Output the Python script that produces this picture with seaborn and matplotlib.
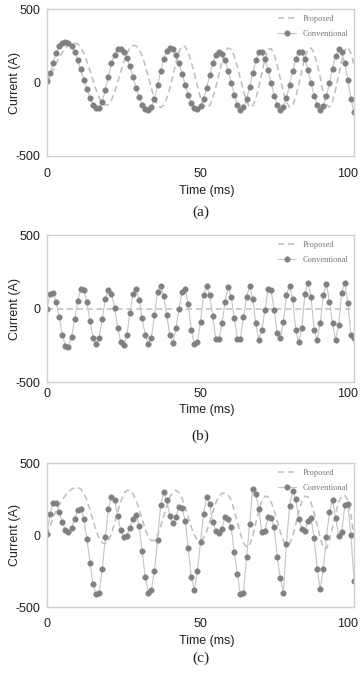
import matplotlib
matplotlib.use("Agg")
import matplotlib.pyplot as plt
import matplotlib.transforms as mtransforms
import seaborn as sns
import pandas as pd

# ---------------- data ----------------
time_ms = list(range(0, 101))

conv_a = [10, 66, 135, 200, 245, 270, 278, 268, 248, 210,
          150, 90, 20, -45, -105, -150, -175, -175, -130, -50,
          40, 130, 190, 225, 228, 210, 170, 110, 40, -35,
          -100, -150, -178, -186, -170, -110, -20, 75, 160, 215,
          235, 225, 190, 130, 60, -15, -85, -140, -172, -182,
          -160, -110, -35, 50, 130, 185, 210, 195, 150, 80,
          0, -85, -150, -185, -170, -115, -30, 65, 150, 205,
          205, 160, 85, 0, -90, -155, -185, -165, -105, -20,
          75, 160, 208, 205, 160, 85, 0, -90, -155, -185,
          -160, -95, -5, 95, 180, 225, 205, 130, 20, -110,
          -200]

prop_a = [0, 40, 85, 130, 170, 205, 235, 255, 265, 268,
          262, 240, 200, 145, 80, 15, -50, -105, -140, -155,
          -150, -120, -65, 0, 70, 140, 195, 235, 252, 250,
          225, 180, 115, 40, -40, -110, -155, -170, -155, -110,
          -40, 45, 135, 210, 250, 245, 205, 140, 60, -25,
          -105, -155, -170, -155, -105, -30, 55, 140, 205, 235,
          225, 180, 110, 25, -60, -130, -168, -160, -110, -30,
          65, 160, 225, 232, 190, 115, 25, -65, -135, -168,
          -155, -100, -15, 80, 170, 225, 235, 200, 125, 35,
          -80, -150, -168, -130, -50, 50, 150, 220, 240, 200,
          120]

conv_b = [0, 98, 107, 45, -61, -177, -257, -261, -193, -73,
          52, 130, 125, 41, -86, -198, -243, -198, -73, 64,
          125, 98, 5, -130, -227, -250, -182, -30, 98, 136,
          61, -68, -182, -239, -198, -45, 114, 152, 84, -45,
          -182, -234, -136, 0, 114, 136, 30, -148, -243, -225,
          -91, 91, 152, 91, -52, -209, -209, -102, 45, 148,
          80, -64, -205, -205, -61, 80, 152, 68, -102, -211,
          -143, -11, 136, 125, -11, -170, -200, -91, 91, 152,
          68, -143, -227, -136, 102, 175, 80, -148, -211, -102,
          91, 170, 45, -102, -211, -114, 107, 175, 39, -182,
          -198]

prop_b_time = [0, 10, 20, 30, 40, 50, 60, 70, 80, 90, 100]
prop_b = [0, 0, 0, 0, 0, 0, 0, 0, 0, 0, 0]

conv_c = [7, 146, 221, 221, 158, 88, 35, 19, 49, 112,
          174, 181, 112, -28, -191, -342, -412, -400, -237, -16,
          181, 267, 244, 135, 35, -16, -5, 49, 112, 142,
          65, -109, -295, -400, -384, -249, -35, 205, 302, 240,
          135, 81, 128, 193, 188, 100, -91, -295, -384, -249,
          -51, 146, 263, 216, 88, 30, 12, 45, 128, 110,
          53, -120, -272, -412, -400, -156, 77, 321, 286, 181,
          19, 30, 123, 119, 53, -156, -300, -400, -60, 200,
          309, 251, 112, 42, 30, 100, 119, -21, -237, -377,
          -237, -16, 158, 240, 119, -5, 19, 205, 216, 0,
          -319]

prop_c = [0, 60, 120, 170, 210, 245, 275, 300, 318, 328,
          330, 320, 290, 240, 175, 100, 30, -25, -55, -60,
          -40, 10, 80, 160, 230, 285, 310, 310, 285, 240,
          180, 110, 40, -15, -40, -35, 0, 60, 130, 200,
          260, 300, 310, 295, 255, 195, 125, 55, 0, -35,
          -40, -20, 25, 90, 160, 225, 270, 290, 290, 280,
          240, 170, 90, 10, -55, -85, -70, -10, 80, 170,
          240, 270, 265, 230, 170, 95, 20, -40, -70, -60,
          -10, 70, 160, 235, 270, 265, 225, 155, 70, -20,
          -90, -95, -40, 50, 150, 230, 270, 275, 240, 140,
          -16]

x_ticks = [0, 50, 100]
y_ticks = [-500, 0, 500]
series_names = ["Proposed", "Conventional"]
panel_labels = ["(a)", "(b)", "(c)"]
x_label = "Time (ms)"
y_label = "Current (A)"

# ---------------- style ----------------
sns.set_theme(style="white")
plt.rcParams['font.family'] = ['Liberation Sans', 'DejaVu Sans']

W, H = 361, 677
fig = plt.figure(figsize=(W / 100, H / 100), dpi=100)

def fx(x):
    return x / W

def fy(y):
    return 1 - y / H

# (left, top, right, bottom) in pixels, tick pad, xlabel y, caption y
panels = [
    dict(box=(47, 9, 354, 156), pad=8.5, xl=191, cap=212,
         prop=(time_ms, prop_a), conv=conv_a),
    dict(box=(47, 235, 354, 382), pad=4.0, xl=410, cap=436,
         prop=(prop_b_time, prop_b), conv=conv_b),
    dict(box=(47, 463, 354, 607), pad=8.0, xl=641, cap=658,
         prop=(time_ms, prop_c), conv=conv_c),
]

conv_mk = "#808080"
conv_ln = "#c4c4c4"
prop_col = "#bdbdbd"

for i, p in enumerate(panels):
    l, t, r, b = p["box"]
    ax = fig.add_axes([fx(l), fy(b), (r - l) / W, (b - t) / H])
    df_p = pd.DataFrame({"t": p["prop"][0], "v": p["prop"][1]})
    df_c = pd.DataFrame({"t": time_ms, "v": p["conv"]})
    sns.lineplot(data=df_p, x="t", y="v", ax=ax, color=prop_col, lw=1.1,
                 linestyle=(0, (4, 2.5)), errorbar=None, label=series_names[0])
    sns.lineplot(data=df_c, x="t", y="v", ax=ax, color=conv_ln, lw=0.8,
                 marker="o", markersize=4.0, markerfacecolor=conv_mk,
                 markeredgecolor=conv_mk, markeredgewidth=0.3,
                 errorbar=None, label=series_names[1])
    ax.set_xlim(0, 100)
    ax.set_ylim(-500, 500)
    ax.set_xticks(x_ticks)
    ax.set_yticks(y_ticks)
    ax.set_xticklabels([str(v) for v in x_ticks])
    ax.set_yticklabels([str(v) for v in y_ticks])
    ax.set_xlabel("")
    ax.set_ylabel("")
    ax.tick_params(axis="x", length=0, pad=p["pad"], labelsize=9, colors="#222222")
    ax.tick_params(axis="y", length=0, pad=5, labelsize=9, colors="#222222")
    last = ax.get_xticklabels()[-1]
    last.set_transform(last.get_transform() +
                       mtransforms.ScaledTranslation(-6 / 100, 0, fig.dpi_scale_trans))
    for s in ax.spines.values():
        s.set_color("#d0d0d0")
        s.set_linewidth(1.0)
    ax.set_facecolor("white")
    leg = ax.legend(loc="upper right", frameon=False, handlelength=2.2,
                    handletextpad=0.7, labelspacing=0.8, borderaxespad=0.3,
                    prop={"family": "Liberation Serif", "size": 6})
    for txt in leg.get_texts():
        txt.set_color("#777777")
    fig.text(fx((l + r) / 2 + 6), fy(p["xl"]), x_label, ha="center", va="center",
             fontsize=9, color="#222222")
    fig.text(fx(15), fy((t + b) / 2), y_label, ha="center", va="center",
             rotation=90, fontsize=9, color="#222222")
    fig.text(fx((l + r) / 2), fy(p["cap"]), panel_labels[i], ha="center", va="center",
             fontsize=11, color="#222222", family="Liberation Serif")

fig.savefig("out.png", dpi=100, facecolor="white")
